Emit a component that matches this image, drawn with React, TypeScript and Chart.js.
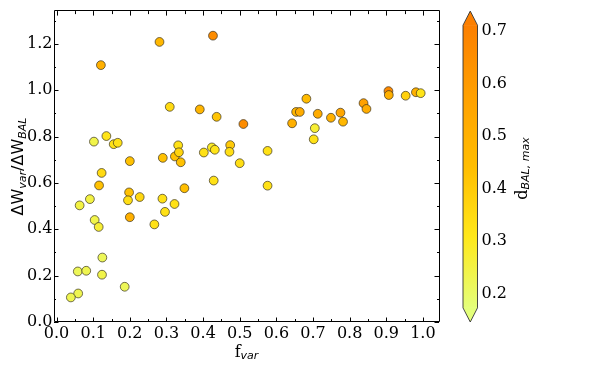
import { useEffect, useRef } from "react";
import { Chart, registerables } from "chart.js";
Chart.register(...registerables);

// ---- data ----
const fVar = [
  0.121, 0.281, 0.427, 0.309, 0.391, 0.437, 0.510, 0.102, 0.136, 0.156,
  0.167, 0.200, 0.290, 0.323, 0.332, 0.334, 0.339, 0.402, 0.424, 0.432,
  0.474, 0.472, 0.500, 0.123, 0.429, 0.116, 0.198, 0.349, 0.227, 0.289,
  0.091, 0.195, 0.063, 0.322, 0.296, 0.200, 0.104, 0.267, 0.115, 0.125,
  0.058, 0.081, 0.124, 0.186, 0.059, 0.039, 0.576, 0.576, 0.643, 0.654,
  0.664, 0.682, 0.713, 0.705, 0.702, 0.749, 0.775, 0.782, 0.838, 0.846,
  0.906, 0.907, 0.953, 0.981, 0.994,
];
const dWRatio = [
  1.108, 1.208, 1.235, 0.928, 0.917, 0.885, 0.854, 0.778, 0.802, 0.767,
  0.773, 0.694, 0.708, 0.714, 0.762, 0.732, 0.689, 0.731, 0.753, 0.743,
  0.763, 0.734, 0.685, 0.643, 0.610, 0.589, 0.559, 0.577, 0.539, 0.532,
  0.530, 0.525, 0.503, 0.509, 0.475, 0.452, 0.440, 0.421, 0.410, 0.278,
  0.218, 0.221, 0.204, 0.152, 0.123, 0.106, 0.738, 0.588, 0.857, 0.906,
  0.906, 0.963, 0.898, 0.836, 0.788, 0.881, 0.903, 0.864, 0.944, 0.919,
  0.996, 0.979, 0.976, 0.991, 0.987,
];
const dBalMax = [
  0.50, 0.47, 0.66, 0.35, 0.48, 0.42, 0.66, 0.24, 0.32, 0.33,
  0.33, 0.43, 0.43, 0.43, 0.33, 0.37, 0.43, 0.33, 0.29, 0.32,
  0.40, 0.34, 0.34, 0.35, 0.33, 0.43, 0.43, 0.44, 0.36, 0.33,
  0.25, 0.34, 0.25, 0.33, 0.33, 0.50, 0.24, 0.33, 0.27, 0.22,
  0.22, 0.23, 0.24, 0.22, 0.23, 0.23, 0.33, 0.33, 0.50, 0.48,
  0.52, 0.45, 0.52, 0.27, 0.33, 0.50, 0.55, 0.47, 0.57, 0.52,
  0.67, 0.50, 0.38, 0.50, 0.32,
];
const xTickLabels = ["0.0", "0.1", "0.2", "0.3", "0.4", "0.5", "0.6", "0.7", "0.8", "0.9", "1.0"];
const yTickLabels = ["0.0", "0.2", "0.4", "0.6", "0.8", "1.0", "1.2"];
const cbTickValues = [0.2, 0.3, 0.4, 0.5, 0.6, 0.7];
const cbTickLabels = ["0.2", "0.3", "0.4", "0.5", "0.6", "0.7"];
const C_MIN = 0.173;
const C_MAX = 0.711;

// matplotlib "Wistia" colormap stops
const WISTIA: number[][] = [
  [228, 255, 122],
  [255, 232, 26],
  [255, 189, 0],
  [255, 160, 0],
  [252, 127, 0],
];
function wistia(t: number): string {
  const c = Math.max(0, Math.min(1, t));
  const s = c * 4;
  const i = Math.min(3, Math.floor(s));
  const f = s - i;
  const a = WISTIA[i];
  const b = WISTIA[i + 1];
  const r = Math.round(a[0] + (b[0] - a[0]) * f);
  const g = Math.round(a[1] + (b[1] - a[1]) * f);
  const bl = Math.round(a[2] + (b[2] - a[2]) * f);
  return `rgb(${r},${g},${bl})`;
}
const norm = (v: number) => (v - C_MIN) / (C_MAX - C_MIN);

const SERIF = "'DejaVu Serif', serif";
const SANS = "'DejaVu Sans', sans-serif";

type Part = { text: string; font: string; dy: number };
function drawRich(ctx: CanvasRenderingContext2D, parts: Part[], cx: number, cy: number, rotate: boolean) {
  ctx.save();
  ctx.translate(cx, cy);
  if (rotate) ctx.rotate(-Math.PI / 2);
  ctx.textBaseline = "alphabetic";
  ctx.textAlign = "left";
  ctx.fillStyle = "#000";
  let total = 0;
  const widths = parts.map((p) => {
    ctx.font = p.font;
    const w = ctx.measureText(p.text).width;
    total += w;
    return w;
  });
  let x = -total / 2;
  parts.forEach((p, i) => {
    ctx.font = p.font;
    ctx.fillText(p.text, x, p.dy);
    x += widths[i];
  });
  ctx.restore();
}

const decorPlugin = {
  id: "decor",
  afterDraw(chart: any) {
    const ctx: CanvasRenderingContext2D = chart.ctx;
    const { left, right, top, bottom } = chart.chartArea;
    const xs = chart.scales.x;
    const ys = chart.scales.y;
    ctx.save();
    // frame
    ctx.strokeStyle = "#000";
    ctx.lineWidth = 1;
    ctx.beginPath();
    ctx.rect(Math.round(left) + 0.5, Math.round(top) - 0.5, Math.round(right) - Math.round(left), Math.round(bottom) - Math.round(top));
    ctx.stroke();
    // inward ticks
    ctx.lineWidth = 1;
    ctx.strokeStyle = "#000";
    ctx.beginPath();
    xs.ticks.forEach((t: any) => {
      const px = Math.round(xs.getPixelForValue(t.value)) + 0.5;
      const k = Math.round(t.value * 20);
      const len = k % 2 === 0 ? 4.5 : 3;
      ctx.moveTo(px, bottom);
      ctx.lineTo(px, bottom - len);
      ctx.moveTo(px, top);
      ctx.lineTo(px, top + len);
    });
    ys.ticks.forEach((t: any) => {
      const py = Math.round(ys.getPixelForValue(t.value)) + 0.5;
      const k = Math.round(t.value * 10);
      const len = k % 2 === 0 ? 4.5 : 2;
      ctx.moveTo(left, py);
      ctx.lineTo(left + len, py);
      ctx.moveTo(right, py);
      ctx.lineTo(right - len, py);
    });
    ctx.stroke();

    // axis labels
    const sub = `italic 11px ${SANS}`;
    drawRich(
      ctx,
      [
        { text: "f", font: `16px ${SERIF}`, dy: 0 },
        { text: "var", font: sub, dy: 2 },
      ],
      (left + right) / 2,
      356.5,
      false
    );
    drawRich(
      ctx,
      [
        { text: "ΔW", font: `16px ${SANS}`, dy: 0 },
        { text: "var", font: sub, dy: 2.5 },
        { text: "/ΔW", font: `16px ${SANS}`, dy: 0 },
        { text: "BAL", font: sub, dy: 2.5 },
      ],
      23,
      (top + bottom) / 2,
      true
    );

    // colorbar
    const H = bottom - top;
    const body = H / 1.1;
    const ext = body * 0.05;
    const x0 = right + 24;
    const w = 14.5;
    const bTop = top + ext;
    const bBot = bottom - ext;
    const grad = ctx.createLinearGradient(0, bBot, 0, bTop);
    WISTIA.forEach((c, i) => grad.addColorStop(i / 4, `rgb(${c[0]},${c[1]},${c[2]})`));
    ctx.fillStyle = grad;
    ctx.fillRect(x0, bTop, w, bBot - bTop);
    ctx.fillStyle = wistia(1);
    ctx.beginPath();
    ctx.moveTo(x0, bTop + 0.5);
    ctx.lineTo(x0 + w / 2, top);
    ctx.lineTo(x0 + w, bTop + 0.5);
    ctx.closePath();
    ctx.fill();
    ctx.fillStyle = wistia(0);
    ctx.beginPath();
    ctx.moveTo(x0, bBot - 0.5);
    ctx.lineTo(x0 + w / 2, bottom);
    ctx.lineTo(x0 + w, bBot - 0.5);
    ctx.closePath();
    ctx.fill();
    ctx.strokeStyle = "#333";
    ctx.lineWidth = 0.9;
    ctx.beginPath();
    ctx.moveTo(x0, bTop);
    ctx.lineTo(x0 + w / 2, top);
    ctx.lineTo(x0 + w, bTop);
    ctx.lineTo(x0 + w, bBot);
    ctx.lineTo(x0 + w / 2, bottom);
    ctx.lineTo(x0, bBot);
    ctx.closePath();
    ctx.stroke();
    ctx.fillStyle = "#000";
    ctx.font = `16px ${SERIF}`;
    ctx.textAlign = "left";
    ctx.textBaseline = "middle";
    cbTickValues.forEach((v, i) => {
      const py = bBot - norm(v) * (bBot - bTop);
      ctx.fillText(cbTickLabels[i], x0 + w + 4, py);
    });
    drawRich(
      ctx,
      [
        { text: "d", font: `16px ${SERIF}`, dy: 0 },
        { text: "BAL, max", font: sub, dy: 2 },
      ],
      x0 + w + 49,
      (top + bottom) / 2 + 2,
      true
    );
    ctx.restore();
  },
};

export default function App() {
  const ref = useRef<HTMLCanvasElement | null>(null);
  useEffect(() => {
    document.body.style.margin = "0";
    const canvas = ref.current;
    if (!canvas) return;
    const points = fVar.map((x, i) => ({ x, y: dWRatio[i] }));
    const colors = dBalMax.map((v) => wistia(norm(v)));
    const chart = new Chart(canvas, {
      type: "scatter",
      data: {
        datasets: [
          {
            data: points,
            backgroundColor: colors,
            borderColor: "rgba(50,45,30,0.85)",
            borderWidth: 0.8,
            pointRadius: 4.4,
            pointHoverRadius: 4.4,
          },
        ],
      },
      options: {
        responsive: false,
        animation: false,
        events: [],
        layout: { padding: { left: 0, right: 159, top: 3.5, bottom: 24 } },
        plugins: { legend: { display: false }, tooltip: { enabled: false } },
        scales: {
          x: {
            type: "linear",
            min: -0.007,
            max: 1.044,
            grid: { display: false, drawTicks: false },
            border: { display: false },
            afterFit: (s: any) => {
              s.height = 22;
            },
            ticks: {
              stepSize: 0.05,
              includeBounds: false,
              autoSkip: false,
              maxRotation: 0,
              padding: 2,
              color: "#000",
              font: { family: SERIF, size: 16 },
              callback: (value: any) => {
                const k = Math.round(Number(value) * 20);
                return k % 2 === 0 ? xTickLabels[k / 2] ?? "" : "";
              },
            },
          },
          y: {
            type: "linear",
            min: 0,
            max: 1.341,
            grid: { display: false, drawTicks: false },
            border: { display: false },
            afterFit: (s: any) => {
              s.width = 54;
            },
            ticks: {
              stepSize: 0.1,
              includeBounds: false,
              autoSkip: false,
              padding: 1.5,
              color: "#000",
              font: { family: SERIF, size: 16 },
              callback: (value: any) => {
                const k = Math.round(Number(value) * 10);
                return k % 2 === 0 ? yTickLabels[k / 2] ?? "" : "";
              },
            },
          },
        },
      },
      plugins: [decorPlugin],
    });
    return () => chart.destroy();
  }, []);
  return <canvas ref={ref} width={598} height={368} style={{ display: "block", width: 598, height: 368 }} />;
}
